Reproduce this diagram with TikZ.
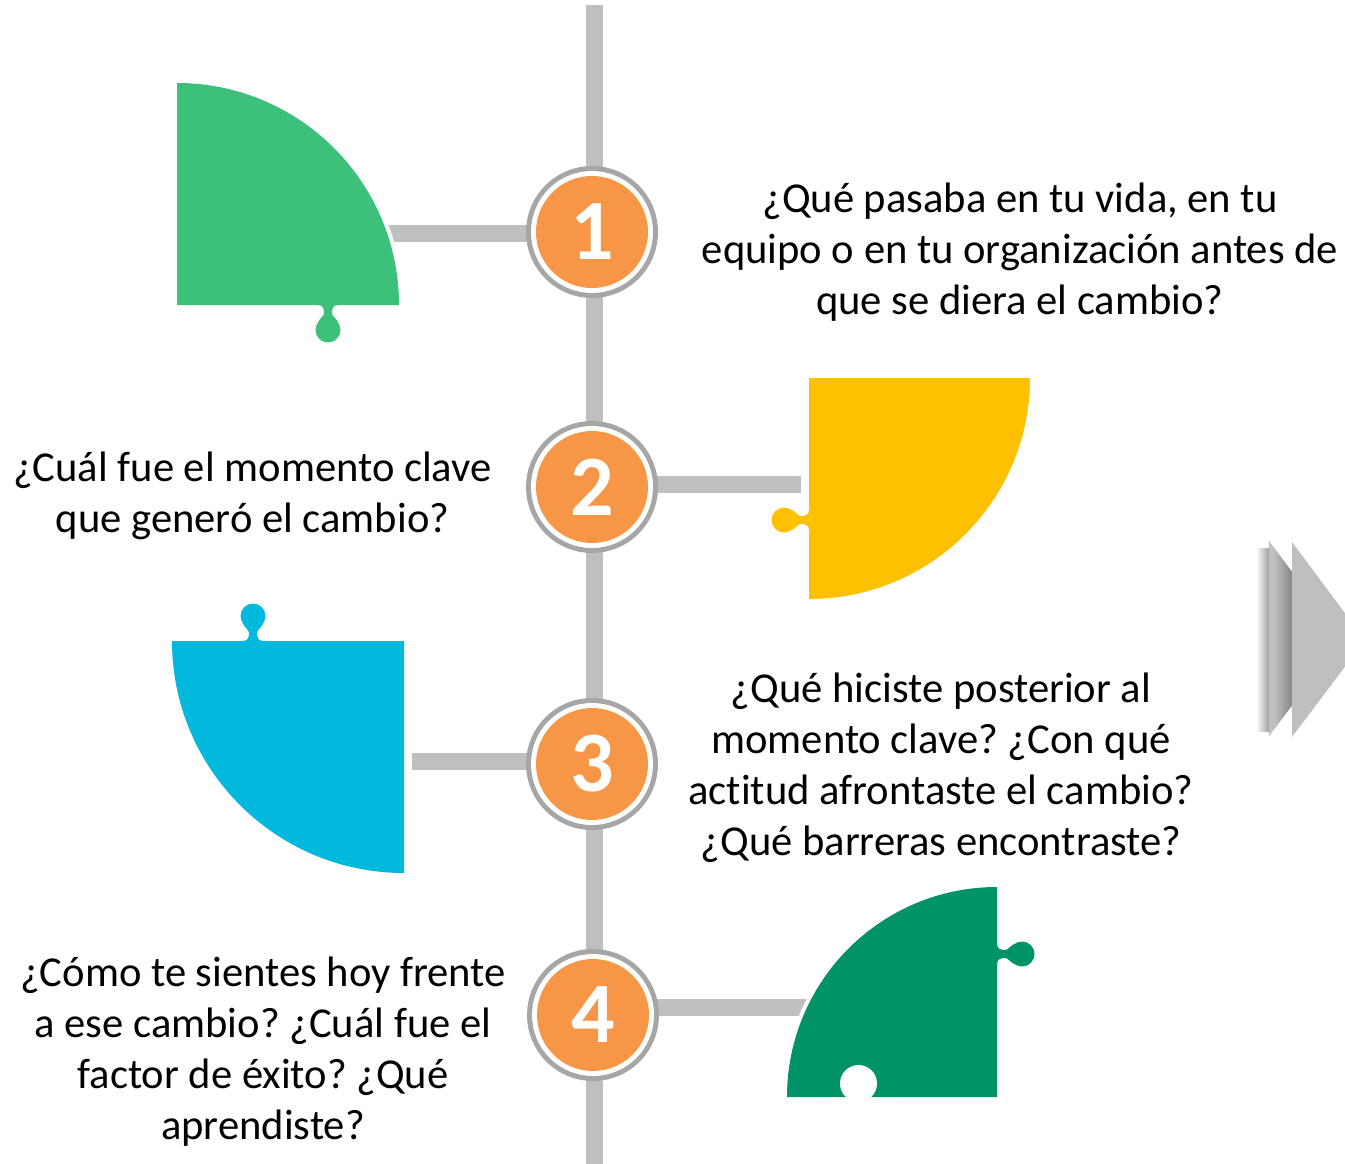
\documentclass[tikz,border=0pt]{standalone}
\usepackage{fontspec}
\setmainfont{Carlito}[Ligatures=NoCommon, Contextuals=NoAlternate]
\definecolor{railgray}{HTML}{BFBFBF}
\definecolor{ringgray}{HTML}{A6A6A6}
\definecolor{orangec}{HTML}{F79646}
\definecolor{greenA}{HTML}{3DC17A}
\definecolor{yellowB}{HTML}{FFC000}
\definecolor{blueC}{HTML}{00B9DC}
\definecolor{greenD}{HTML}{009368}
\newcommand{\puzzletab}[4]{%
  \begin{scope}[shift={(#1,#2)}, rotate=#3]
    \fill[#4] (-10,-2) -- (-10,0) .. controls (-5,0) and (-4,4) .. (-4,8) .. controls (-4,11) and (-8,13) .. (-10.5,18) -- (10.5,18) .. controls (8,13) and (4,11) .. (4,8) .. controls (4,4) and (5,0) .. (10,0) -- (10,-2) -- cycle;
    \fill[#4] (0,25) circle (12.5);
  \end{scope}}
\begin{document}
\begin{tikzpicture}[x=1pt,y=-1pt,
  rail/.style={draw=railgray, line width=17},
  qtext/.style={font=\fontsize{42.6}{51}\selectfont\frenchspacing, align=center, text=black, inner sep=0},
  numc/.style={circle, inner sep=0, minimum size=112, fill=orangec, text=white,
    font=\fontsize{86}{90}\selectfont\bfseries,
    preaction={draw=ringgray, line width=20},
    preaction={draw=white, line width=10}},
  piece/.style={fill=#1, preaction={draw=white, line width=8}}]
\useasboundingbox (0,0) rectangle (1345,1164);

% vertical rail
\coordinate (top) at (594.5,5);
\coordinate (bot) at (594.5,1164);
\draw[rail] (top) -- (bot);

% circle positions
\coordinate (k1) at (592,232);
\coordinate (k2) at (592,487);
\coordinate (k3) at (592,764);
\coordinate (k4) at (593,1015);

% connectors (ends)
\coordinate (e1) at (380,233);
\coordinate (e2) at (801,484.5);
\coordinate (e3) at (412,761.5);
\coordinate (e4) at (825,1007);
\draw[rail] (k1 |- e1) -- (e1);
\draw[rail] (k2 |- e2) -- (e2);
\draw[rail] (k3 |- e3) -- (e3);
\draw[rail] (k4 |- e4) -- (e4);

% pieces
\path[piece=greenA] (177,305) -- (177,83) arc[start angle=-90, end angle=0, radius=222] -- cycle;
\puzzletab{328}{305}{0}{greenA}

\path[piece=yellowB] (809,378) -- (1030,378) arc[start angle=0, end angle=90, radius=221] -- cycle;
\puzzletab{809}{520}{-90}{yellowB}

\path[piece=blueC] (404,641) -- (172,641) arc[start angle=180, end angle=90, radius=232] -- cycle;
\puzzletab{253}{641}{180}{blueC}

\path[piece=greenD] (997,1097) -- (787,1097) arc[start angle=180, end angle=270, radius=210] -- cycle;
\puzzletab{997}{954}{90}{greenD}
\fill[white] (858.5,1083.5) circle (18.5);

% numbered circles
\node[numc] (c1) at (k1) {1};
\node[numc] (c2) at (k2) {2};
\node[numc] (c3) at (k3) {3};
\node[numc] (c4) at (k4) {4};

% texts
\node[qtext] (t1) at (1020,252) {¿Qué pasaba en tu vida, en tu\\equipo o en tu organización antes de\\que se diera el cambio?};
\node[qtext] (t2) at (252.5,496) {¿Cuál fue el momento clave\\que generó el cambio?};
\node[qtext] (t3) at (941,767.5) {¿Qué hiciste posterior al\\momento clave? ¿Con qué\\act\kern0pt it\kern0pt ud afrontaste el cambio?\\¿Qué barreras encontraste?};
\node[qtext] (t4) at (263,1051.5) {¿Cómo te sientes hoy frente\\a ese cambio? ¿Cuál fue el\\factor de éxito? ¿Qué\\aprendiste?};

% arrow
\begin{scope}
  \clip (0,0) rectangle (1345,1164);
  \shade[left color=white, right color=gray!75] (1256,548) rectangle (1269,731);
  \fill[railgray] (1269,541) -- (1342,639) -- (1269,736) -- cycle;
  \begin{scope}
    \clip (1269,541) -- (1342,639) -- (1269,736) -- cycle;
    \shade[left color=railgray, right color=gray!95] (1274,530) rectangle (1292,750);
  \end{scope}
  \fill[railgray] (1292,542) -- (1365,640) -- (1292,737) -- cycle;
\end{scope}
\end{tikzpicture}
\end{document}
